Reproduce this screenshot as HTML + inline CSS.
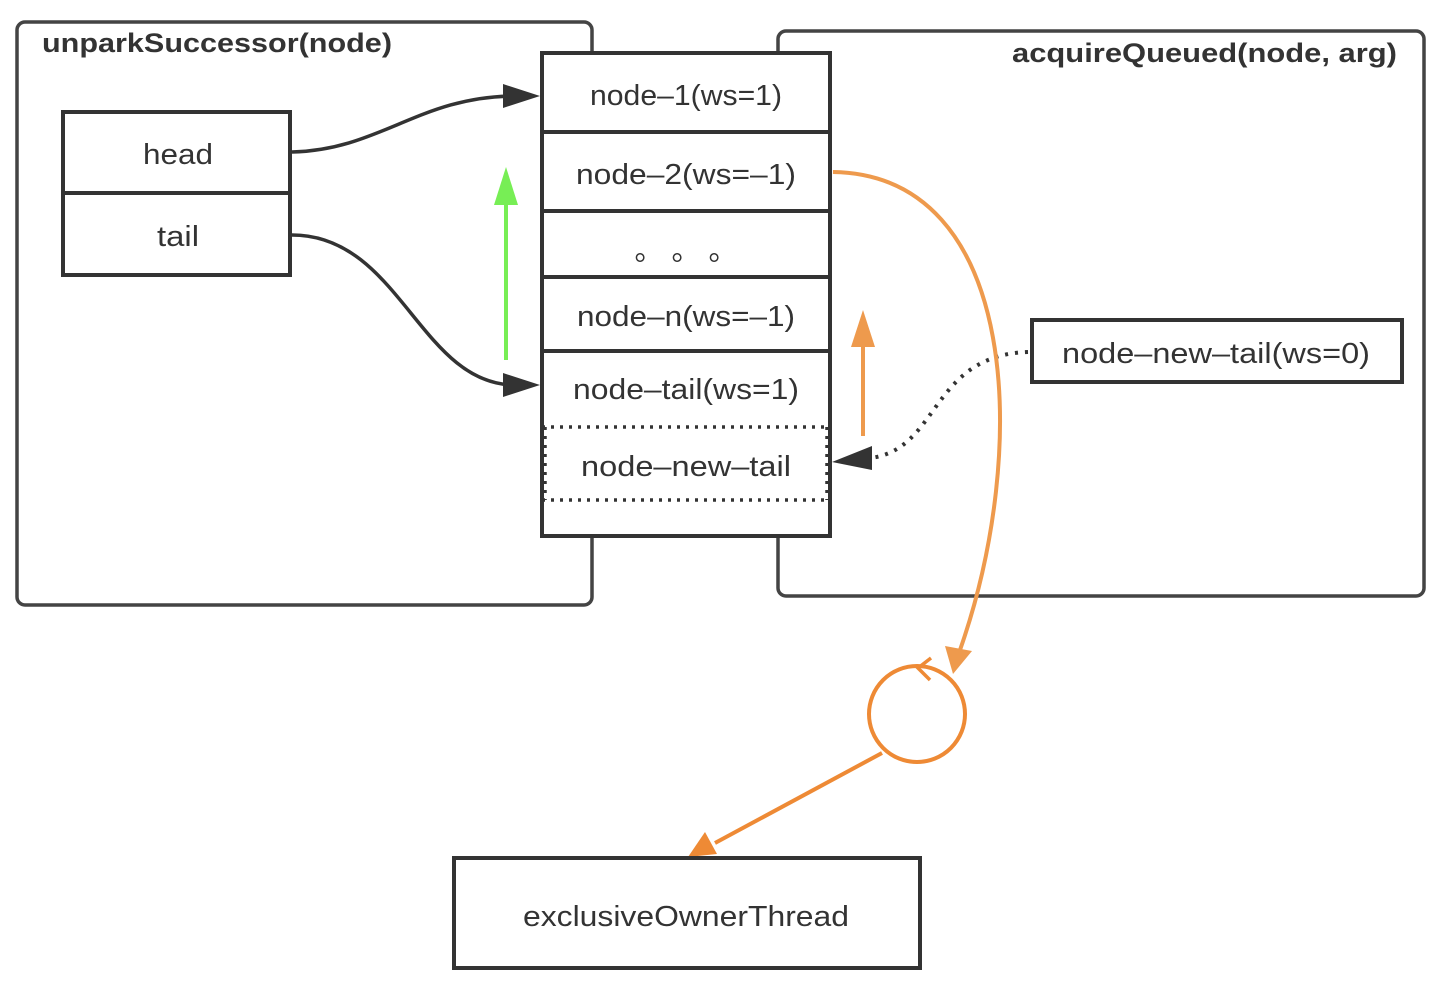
<!DOCTYPE html>
<html><head><style>body{margin:0;background:#fff}svg{display:block}text{font-family:"Liberation Sans",sans-serif;fill:#333}</style></head><body>
<svg width="1442" height="996" viewBox="0 0 1442 996">
<g fill="none" stroke="#444" stroke-width="3.5">
<rect x="17" y="22" width="575" height="583" rx="8"/>
<rect x="778" y="31" width="646" height="565" rx="8"/>
</g>
<text x="42" y="52" font-size="27" font-weight="bold" textLength="350" lengthAdjust="spacingAndGlyphs">unparkSuccessor(node)</text>
<text x="1012" y="62" font-size="27" font-weight="bold" textLength="385" lengthAdjust="spacingAndGlyphs">acquireQueued(node, arg)</text>
<rect x="542" y="53" width="288" height="483" fill="#fff" stroke="#333" stroke-width="4"/>
<g stroke="#333" stroke-width="4">
<line x1="542" y1="132" x2="830" y2="132"/>
<line x1="542" y1="211" x2="830" y2="211"/>
<line x1="542" y1="277" x2="830" y2="277"/>
<line x1="542" y1="351" x2="830" y2="351"/>
</g>
<g stroke="#333" stroke-width="3.5" stroke-dasharray="3 6" fill="none">
<line x1="542" y1="427" x2="830" y2="427"/>
<line x1="542" y1="500" x2="830" y2="500"/>
<line x1="545" y1="427" x2="545" y2="500"/>
<line x1="827" y1="427" x2="827" y2="500"/>
</g>
<g font-size="29" lengthAdjust="spacingAndGlyphs">
<text x="590" y="105" textLength="192" lengthAdjust="spacingAndGlyphs">node–1(ws=1)</text>
<text x="576" y="184" textLength="220" lengthAdjust="spacingAndGlyphs">node–2(ws=–1)</text>
<text x="686" y="260" text-anchor="middle">。 。 。</text>
<text x="577" y="326" textLength="218" lengthAdjust="spacingAndGlyphs">node–n(ws=–1)</text>
<text x="573" y="399" textLength="226" lengthAdjust="spacingAndGlyphs">node–tail(ws=1)</text>
<text x="581" y="476" textLength="210" lengthAdjust="spacingAndGlyphs">node–new–tail</text>
</g>
<rect x="63" y="112" width="227" height="163" fill="#fff" stroke="#333" stroke-width="4"/>
<line x1="63" y1="193" x2="290" y2="193" stroke="#333" stroke-width="4"/>
<text x="143" y="164" font-size="29" textLength="70" lengthAdjust="spacingAndGlyphs">head</text>
<text x="157" y="246" font-size="29" textLength="42" lengthAdjust="spacingAndGlyphs">tail</text>
<g fill="none" stroke="#333" stroke-width="3.5">
<path d="M292,152 C380,150 420,96 515,96"/>
<path d="M292,235 C400,235 420,385 515,385"/>
</g>
<path d="M503,84L540,96L503,108z" fill="#333"/>
<path d="M503,373L540,385L503,397z" fill="#333"/>
<line x1="506" y1="360" x2="506" y2="200" stroke="#77EE55" stroke-width="4"/>
<path d="M494,205L506,167L518,205z" fill="#77EE55"/>
<line x1="863" y1="436" x2="863" y2="345" stroke="#EE9A4D" stroke-width="4"/>
<path d="M851,347L863,310L875,347z" fill="#EE9A4D"/>
<rect x="1032" y="320" width="370" height="62" fill="#fff" stroke="#333" stroke-width="4"/>
<text x="1062" y="363" font-size="29" textLength="308" lengthAdjust="spacingAndGlyphs">node–new–tail(ws=0)</text>
<path d="M1028,352 C930,355 940,450 870,458" fill="none" stroke="#333" stroke-width="4" stroke-dasharray="3 7"/>
<path d="M872,446L832,462L872,470z" fill="#333"/>
<path d="M833,172 C1020,175 1030,450 960,650" fill="none" stroke="#EE9A4D" stroke-width="4"/>
<path d="M945,646L972,651L953,674z" fill="#EE9A4D"/>
<circle cx="917" cy="714" r="48" fill="none" stroke="#EE8A35" stroke-width="4"/>
<path d="M931,658L918,668L930,680" fill="none" stroke="#EE8A35" stroke-width="3.5"/>
<line x1="882" y1="753" x2="715" y2="843" stroke="#EE8A35" stroke-width="4"/>
<path d="M705,832L688,857L717,854z" fill="#EE8A35"/>
<rect x="454" y="858" width="466" height="110" fill="#fff" stroke="#333" stroke-width="4"/>
<text x="523" y="926" font-size="29" textLength="326" lengthAdjust="spacingAndGlyphs">exclusiveOwnerThread</text>
</svg>
</body></html>
